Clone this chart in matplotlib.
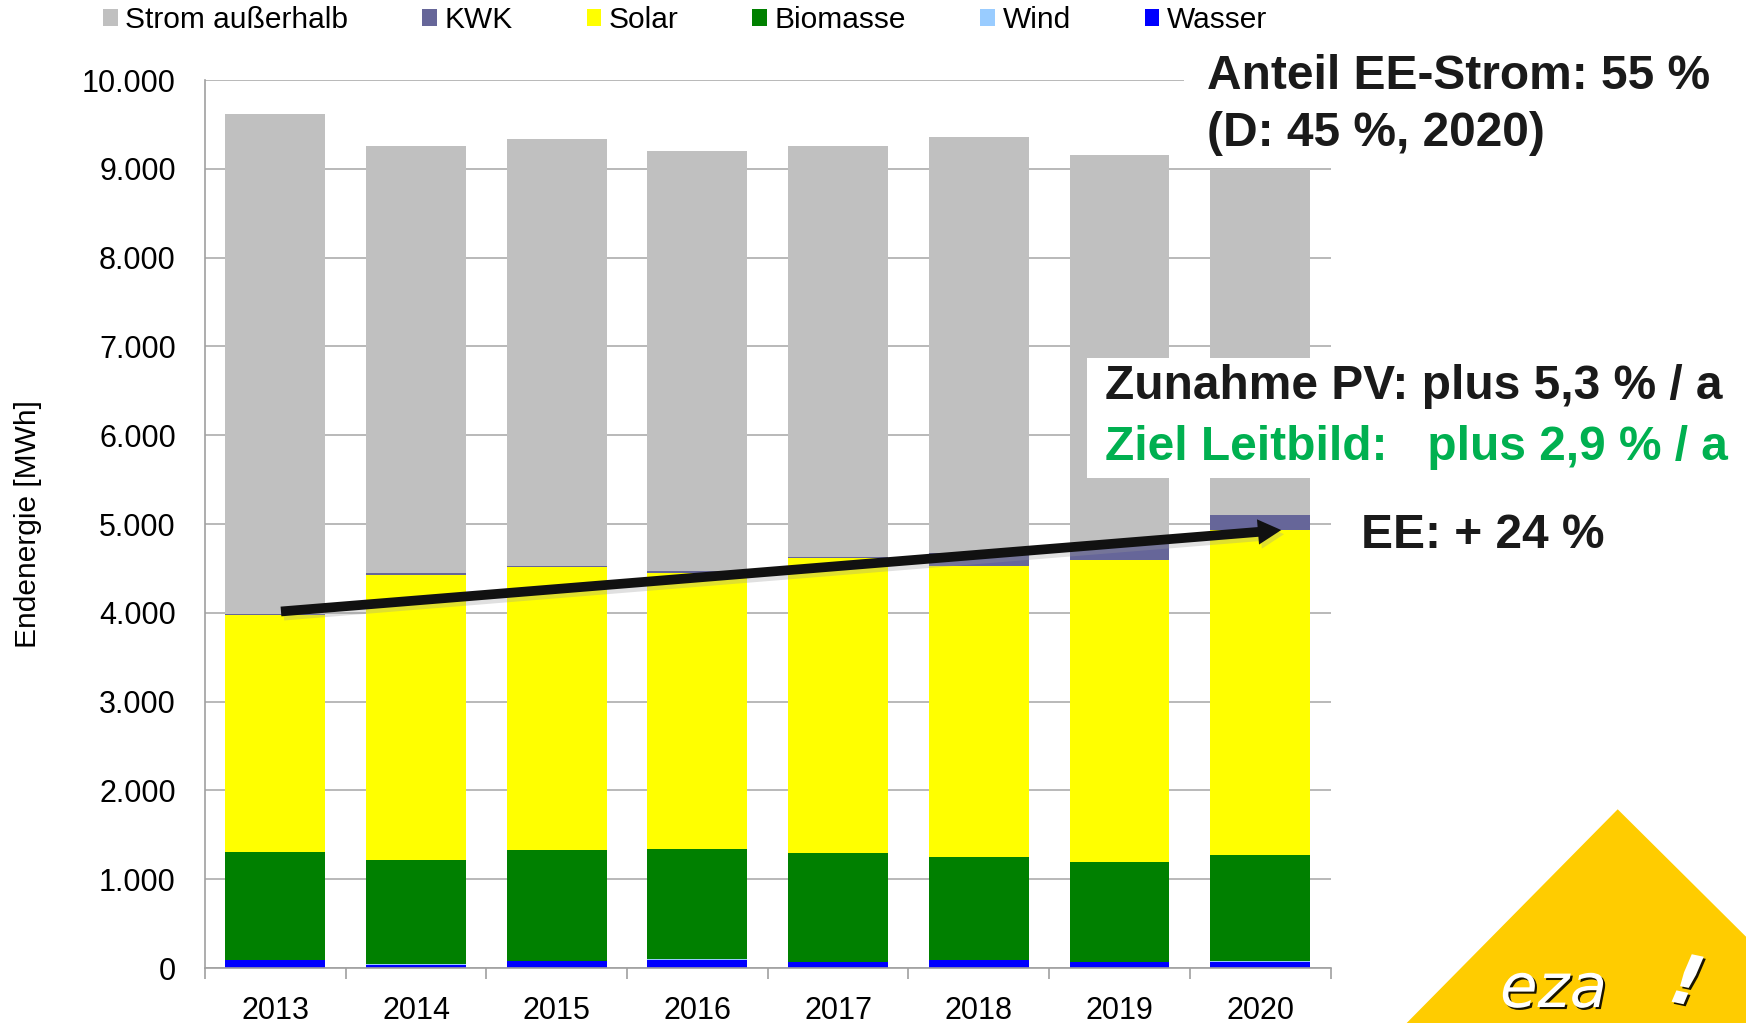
import matplotlib
matplotlib.use("Agg")
import matplotlib.pyplot as plt
import matplotlib.patheffects as pe
from matplotlib.patches import Patch, Rectangle, Polygon, FancyArrowPatch
import numpy as np

plt.rcParams['font.family'] = ['Liberation Sans', 'DejaVu Sans']

# data (MWh)
years = ['2013', '2014', '2015', '2016', '2017', '2018', '2019', '2020']
wasser = [90, 34, 79, 94, 68, 90, 68, 68]
wind = [0, 15, 3, 5, 3, 3, 3, 8]
biomasse = [1212, 1166, 1246, 1241, 1219, 1160, 1119, 1202]
solar = [2668, 3216, 3185, 3113, 3324, 3271, 3402, 3659]
kwk = [15, 20, 19, 15, 19, 151, 184, 169]
strom_ausserhalb = [5627, 4811, 4804, 4730, 4628, 4686, 4384, 3892]

# trend arrow (renewables 2013 -> 2020)
arrow_start = (0.04, 4015)
arrow_end = (7.15, 4932)

series = [
    ('Wasser', wasser, '#0000FF'),
    ('Wind', wind, '#99CCFF'),
    ('Biomasse', biomasse, '#008000'),
    ('Solar', solar, '#FFFF00'),
    ('KWK', kwk, '#666699'),
    ('Strom außerhalb', strom_ausserhalb, '#C0C0C0'),
]

fig = plt.figure(figsize=(17.46, 10.23), dpi=100)
ax = fig.add_axes([205 / 1746, 1 - 968 / 1023, 1125.5 / 1746, 888 / 1023])

x = np.arange(len(years))
bottom = np.zeros(len(years))
for name, vals, col in series:
    ax.bar(x, vals, width=0.71, bottom=bottom, color=col, linewidth=0, label=name, zorder=2)
    bottom += np.array(vals)

ax.set_xlim(-0.5, len(years) - 0.5)
ax.set_ylim(0, 10000)
yt = np.arange(0, 10001, 1000)
ax.set_yticks(yt)
ax.set_yticklabels([f"{v:,.0f}".replace(',', '.') for v in yt])
ax.set_xticks(x)
ax.set_xticklabels(years)
ax.set_xticks(np.arange(-0.5, len(years)), minor=True)

ax.tick_params(axis='y', length=0, pad=21, labelsize=22, colors='#000000')
ax.tick_params(axis='x', which='major', length=0, pad=20, labelsize=22)
ax.tick_params(axis='x', which='minor', length=7.7, width=1.2, color='#a0a0a0')

ax.yaxis.grid(True, color='#a6a6a6', linewidth=1.1, zorder=0)
ax.set_axisbelow(True)
for s in ['top', 'right']:
    ax.spines[s].set_visible(False)
for s in ['left', 'bottom']:
    ax.spines[s].set_color('#a0a0a0')
    ax.spines[s].set_linewidth(1.2)

fig.text(28 / 1746, 1 - 524 / 1023, 'Endenergie [MWh]', rotation=90,
         va='center', ha='center', fontsize=21.5)

# arrow with slight shadow
arr = FancyArrowPatch(arrow_start, arrow_end,
                      arrowstyle='simple,head_length=1.2,head_width=1.3,tail_width=0.5',
                      mutation_scale=14, color='#111111', linewidth=0, zorder=6,
                      shrinkA=0, shrinkB=0)
arr.set_path_effects([pe.SimplePatchShadow(offset=(2, -3), shadow_rgbFace='#999999', alpha=0.3),
                      pe.Normal()])
ax.add_patch(arr)

# legend
handles = [Patch(facecolor=c, edgecolor='none') for _, _, c in series][::-1]
labels = [n for n, _, _ in series][::-1]
fig.legend(handles, labels, loc='center left', bbox_to_anchor=(103 / 1746, 1 - 20 / 1023),
           ncol=6, frameon=False, fontsize=21.5, handlelength=0.5, handleheight=0.5,
           handletextpad=0.25, columnspacing=2.47, borderpad=0, borderaxespad=0)

# white boxes behind annotations
fig.add_artist(Rectangle((1184 / 1746, 1 - 166 / 1023), 1, 116 / 1023,
                         transform=fig.transFigure, facecolor='white', edgecolor='none', zorder=2))
fig.add_artist(Rectangle((1087 / 1746, 1 - 478 / 1023), 1, 120 / 1023,
                         transform=fig.transFigure, facecolor='white', edgecolor='none', zorder=2))

txt = dict(fontsize=34.5, fontweight='bold', va='baseline', ha='left', zorder=4)
fig.text(1207 / 1746, 1 - 89.3 / 1023, 'Anteil EE-Strom: 55 %', color='#1a1a1a', **txt)
fig.text(1207 / 1746, 1 - 146 / 1023, '(D: 45 %, 2020)', color='#1a1a1a', **txt)
fig.text(1105 / 1746, 1 - 399.3 / 1023, 'Zunahme PV: plus 5,3 % / a', color='#1a1a1a', **txt)
fig.text(1105 / 1746, 1 - 460 / 1023, 'Ziel Leitbild:   plus 2,9 % / a', color='#00B050', **txt)
fig.text(1361 / 1746, 1 - 548.3 / 1023, 'EE: + 24 %', color='#1a1a1a', **txt)

# eza logo corner
fig.add_artist(Polygon([(1406.7 / 1746, 0), (1617.7 / 1746, 1 - 809.3 / 1023),
                        (1.0, 1 - 936.7 / 1023), (1.0, 0)],
                       closed=True, transform=fig.transFigure,
                       facecolor='#FFCC00', edgecolor='none', zorder=2))
logo_fx = [pe.SimplePatchShadow(offset=(1.5, -1.5), shadow_rgbFace='black', alpha=0.9), pe.Normal()]
fig.text(1500 / 1746, 16 / 1023, 'eza', color='white', fontsize=44, style='italic',
         family='DejaVu Sans', va='baseline', ha='left', zorder=4, path_effects=logo_fx)
fig.text(1664 / 1746, 16 / 1023, '!', color='white', fontsize=50, style='italic', rotation=-12,
         family='DejaVu Sans', fontweight='bold', va='baseline', ha='left', zorder=4,
         path_effects=logo_fx)

fig.savefig('out.png', dpi=100)
